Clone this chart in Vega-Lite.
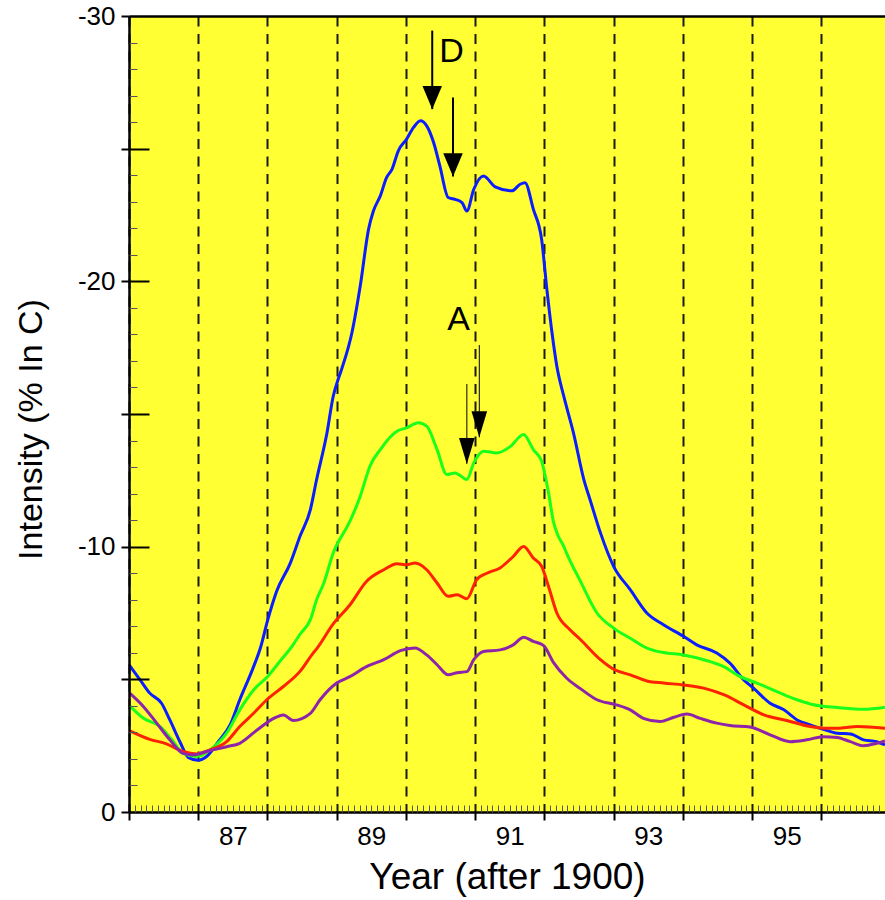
{
  "$schema": "https://vega.github.io/schema/vega-lite/v6.json",
  "width": 756,
  "height": 796,
  "autosize": {"type": "none"},
  "padding": {"left": 129, "top": 16, "right": 0, "bottom": 88},
  "background": "white",
  "config": {
    "font": "Liberation Sans",
    "view": {"fill": "#ffff33", "stroke": null}
  },
  "datasets": {
    "curves": [
      {"series": "s1", "year": 86.01, "value": -5.52},
      {"series": "s1", "year": 86.16, "value": -4.98},
      {"series": "s1", "year": 86.30, "value": -4.48},
      {"series": "s1", "year": 86.47, "value": -4.10},
      {"series": "s1", "year": 86.59, "value": -3.47},
      {"series": "s1", "year": 86.74, "value": -2.62},
      {"series": "s1", "year": 86.86, "value": -2.05},
      {"series": "s1", "year": 87.00, "value": -1.95},
      {"series": "s1", "year": 87.12, "value": -2.09},
      {"series": "s1", "year": 87.29, "value": -2.65},
      {"series": "s1", "year": 87.46, "value": -3.28},
      {"series": "s1", "year": 87.60, "value": -4.23},
      {"series": "s1", "year": 87.80, "value": -5.48},
      {"series": "s1", "year": 87.90, "value": -6.2},
      {"series": "s1", "year": 88.00, "value": -7.2},
      {"series": "s1", "year": 88.13, "value": -8.3},
      {"series": "s1", "year": 88.33, "value": -9.38},
      {"series": "s1", "year": 88.47, "value": -10.39},
      {"series": "s1", "year": 88.62, "value": -11.40},
      {"series": "s1", "year": 88.71, "value": -12.53},
      {"series": "s1", "year": 88.86, "value": -14.29},
      {"series": "s1", "year": 88.95, "value": -15.67},
      {"series": "s1", "year": 89.02, "value": -16.30},
      {"series": "s1", "year": 89.07, "value": -16.68},
      {"series": "s1", "year": 89.22, "value": -18.06},
      {"series": "s1", "year": 89.34, "value": -19.82},
      {"series": "s1", "year": 89.46, "value": -21.96},
      {"series": "s1", "year": 89.53, "value": -22.65},
      {"series": "s1", "year": 89.63, "value": -23.22},
      {"series": "s1", "year": 89.72, "value": -23.91},
      {"series": "s1", "year": 89.80, "value": -24.23},
      {"series": "s1", "year": 89.89, "value": -24.92},
      {"series": "s1", "year": 90.01, "value": -25.36},
      {"series": "s1", "year": 90.11, "value": -25.80},
      {"series": "s1", "year": 90.21, "value": -26.05},
      {"series": "s1", "year": 90.30, "value": -25.86},
      {"series": "s1", "year": 90.40, "value": -25.23},
      {"series": "s1", "year": 90.49, "value": -24.35},
      {"series": "s1", "year": 90.61, "value": -23.16},
      {"series": "s1", "year": 90.71, "value": -23.09},
      {"series": "s1", "year": 90.81, "value": -22.97},
      {"series": "s1", "year": 90.88, "value": -22.65},
      {"series": "s1", "year": 90.98, "value": -23.47},
      {"series": "s1", "year": 91.12, "value": -23.97},
      {"series": "s1", "year": 91.29, "value": -23.56},
      {"series": "s1", "year": 91.53, "value": -23.41},
      {"series": "s1", "year": 91.65, "value": -23.66},
      {"series": "s1", "year": 91.72, "value": -23.72},
      {"series": "s1", "year": 91.84, "value": -22.72},
      {"series": "s1", "year": 91.96, "value": -21.58},
      {"series": "s1", "year": 92.04, "value": -19.60},
      {"series": "s1", "year": 92.11, "value": -18.06},
      {"series": "s1", "year": 92.18, "value": -16.80},
      {"series": "s1", "year": 92.28, "value": -15.67},
      {"series": "s1", "year": 92.42, "value": -14.29},
      {"series": "s1", "year": 92.57, "value": -12.53},
      {"series": "s1", "year": 92.66, "value": -11.77},
      {"series": "s1", "year": 92.81, "value": -10.52},
      {"series": "s1", "year": 93.00, "value": -9.26},
      {"series": "s1", "year": 93.24, "value": -8.38},
      {"series": "s1", "year": 93.48, "value": -7.50},
      {"series": "s1", "year": 93.72, "value": -7.06},
      {"series": "s1", "year": 94.01, "value": -6.62},
      {"series": "s1", "year": 94.20, "value": -6.30},
      {"series": "s1", "year": 94.49, "value": -5.99},
      {"series": "s1", "year": 94.68, "value": -5.61},
      {"series": "s1", "year": 94.88, "value": -4.98},
      {"series": "s1", "year": 95.02, "value": -4.67},
      {"series": "s1", "year": 95.26, "value": -4.10},
      {"series": "s1", "year": 95.46, "value": -3.85},
      {"series": "s1", "year": 95.65, "value": -3.47},
      {"series": "s1", "year": 95.84, "value": -3.28},
      {"series": "s1", "year": 96.03, "value": -3.12},
      {"series": "s1", "year": 96.23, "value": -2.97},
      {"series": "s1", "year": 96.42, "value": -2.94},
      {"series": "s1", "year": 96.61, "value": -2.72},
      {"series": "s1", "year": 96.80, "value": -2.65},
      {"series": "s1", "year": 96.92, "value": -2.53},

      {"series": "s2", "year": 86.01, "value": -4.00},
      {"series": "s2", "year": 86.21, "value": -3.53},
      {"series": "s2", "year": 86.45, "value": -3.22},
      {"series": "s2", "year": 86.62, "value": -2.72},
      {"series": "s2", "year": 86.78, "value": -2.21},
      {"series": "s2", "year": 86.98, "value": -2.09},
      {"series": "s2", "year": 87.17, "value": -2.34},
      {"series": "s2", "year": 87.41, "value": -2.97},
      {"series": "s2", "year": 87.60, "value": -3.85},
      {"series": "s2", "year": 87.80, "value": -4.60},
      {"series": "s2", "year": 88.00, "value": -5.10},
      {"series": "s2", "year": 88.18, "value": -5.68},
      {"series": "s2", "year": 88.37, "value": -6.30},
      {"series": "s2", "year": 88.47, "value": -6.70},
      {"series": "s2", "year": 88.62, "value": -7.25},
      {"series": "s2", "year": 88.71, "value": -8.00},
      {"series": "s2", "year": 88.81, "value": -8.60},
      {"series": "s2", "year": 88.95, "value": -9.76},
      {"series": "s2", "year": 89.19, "value": -10.95},
      {"series": "s2", "year": 89.34, "value": -11.90},
      {"series": "s2", "year": 89.43, "value": -12.65},
      {"series": "s2", "year": 89.48, "value": -13.03},
      {"series": "s2", "year": 89.63, "value": -13.66},
      {"series": "s2", "year": 89.87, "value": -14.35},
      {"series": "s2", "year": 90.01, "value": -14.48},
      {"series": "s2", "year": 90.18, "value": -14.67},
      {"series": "s2", "year": 90.30, "value": -14.54},
      {"series": "s2", "year": 90.45, "value": -13.66},
      {"series": "s2", "year": 90.59, "value": -12.72},
      {"series": "s2", "year": 90.71, "value": -12.78},
      {"series": "s2", "year": 90.88, "value": -12.53},
      {"series": "s2", "year": 90.98, "value": -13.16},
      {"series": "s2", "year": 91.12, "value": -13.60},
      {"series": "s2", "year": 91.31, "value": -13.53},
      {"series": "s2", "year": 91.51, "value": -13.78},
      {"series": "s2", "year": 91.70, "value": -14.23},
      {"series": "s2", "year": 91.84, "value": -13.66},
      {"series": "s2", "year": 91.96, "value": -13.22},
      {"series": "s2", "year": 92.06, "value": -12.03},
      {"series": "s2", "year": 92.13, "value": -10.95},
      {"series": "s2", "year": 92.20, "value": -10.40},
      {"series": "s2", "year": 92.28, "value": -10.01},
      {"series": "s2", "year": 92.32, "value": -9.76},
      {"series": "s2", "year": 92.52, "value": -8.70},
      {"series": "s2", "year": 92.76, "value": -7.50},
      {"series": "s2", "year": 93.00, "value": -6.93},
      {"series": "s2", "year": 93.24, "value": -6.55},
      {"series": "s2", "year": 93.48, "value": -6.18},
      {"series": "s2", "year": 93.72, "value": -6.01},
      {"series": "s2", "year": 94.01, "value": -5.92},
      {"series": "s2", "year": 94.30, "value": -5.74},
      {"series": "s2", "year": 94.59, "value": -5.48},
      {"series": "s2", "year": 94.83, "value": -5.10},
      {"series": "s2", "year": 95.07, "value": -4.86},
      {"series": "s2", "year": 95.36, "value": -4.54},
      {"series": "s2", "year": 95.65, "value": -4.23},
      {"series": "s2", "year": 95.89, "value": -4.04},
      {"series": "s2", "year": 96.23, "value": -3.94},
      {"series": "s2", "year": 96.61, "value": -3.87},
      {"series": "s2", "year": 96.92, "value": -3.95},

      {"series": "s3", "year": 86.01, "value": -3.06},
      {"series": "s3", "year": 86.30, "value": -2.74},
      {"series": "s3", "year": 86.54, "value": -2.57},
      {"series": "s3", "year": 86.78, "value": -2.28},
      {"series": "s3", "year": 86.98, "value": -2.19},
      {"series": "s3", "year": 87.17, "value": -2.34},
      {"series": "s3", "year": 87.41, "value": -2.65},
      {"series": "s3", "year": 87.60, "value": -3.22},
      {"series": "s3", "year": 87.80, "value": -3.72},
      {"series": "s3", "year": 87.99, "value": -4.23},
      {"series": "s3", "year": 88.23, "value": -4.73},
      {"series": "s3", "year": 88.47, "value": -5.30},
      {"series": "s3", "year": 88.66, "value": -5.99},
      {"series": "s3", "year": 88.71, "value": -6.15},
      {"series": "s3", "year": 88.95, "value": -7.09},
      {"series": "s3", "year": 89.19, "value": -7.80},
      {"series": "s3", "year": 89.43, "value": -8.69},
      {"series": "s3", "year": 89.68, "value": -9.13},
      {"series": "s3", "year": 89.87, "value": -9.36},
      {"series": "s3", "year": 90.01, "value": -9.32},
      {"series": "s3", "year": 90.13, "value": -9.38},
      {"series": "s3", "year": 90.30, "value": -9.13},
      {"series": "s3", "year": 90.45, "value": -8.63},
      {"series": "s3", "year": 90.61, "value": -8.13},
      {"series": "s3", "year": 90.74, "value": -8.19},
      {"series": "s3", "year": 90.88, "value": -8.04},
      {"series": "s3", "year": 91.02, "value": -8.75},
      {"series": "s3", "year": 91.17, "value": -9.00},
      {"series": "s3", "year": 91.36, "value": -9.20},
      {"series": "s3", "year": 91.55, "value": -9.63},
      {"series": "s3", "year": 91.70, "value": -10.01},
      {"series": "s3", "year": 91.84, "value": -9.57},
      {"series": "s3", "year": 91.96, "value": -9.26},
      {"series": "s3", "year": 92.06, "value": -8.50},
      {"series": "s3", "year": 92.18, "value": -7.50},
      {"series": "s3", "year": 92.37, "value": -6.87},
      {"series": "s3", "year": 92.52, "value": -6.50},
      {"series": "s3", "year": 92.81, "value": -5.74},
      {"series": "s3", "year": 93.00, "value": -5.38},
      {"series": "s3", "year": 93.24, "value": -5.17},
      {"series": "s3", "year": 93.48, "value": -4.94},
      {"series": "s3", "year": 93.72, "value": -4.86},
      {"series": "s3", "year": 94.01, "value": -4.79},
      {"series": "s3", "year": 94.30, "value": -4.67},
      {"series": "s3", "year": 94.59, "value": -4.42},
      {"series": "s3", "year": 94.88, "value": -4.04},
      {"series": "s3", "year": 95.17, "value": -3.66},
      {"series": "s3", "year": 95.50, "value": -3.45},
      {"series": "s3", "year": 95.84, "value": -3.22},
      {"series": "s3", "year": 96.03, "value": -3.16},
      {"series": "s3", "year": 96.27, "value": -3.16},
      {"series": "s3", "year": 96.52, "value": -3.22},
      {"series": "s3", "year": 96.92, "value": -3.16},

      {"series": "s4", "year": 86.01, "value": -4.48},
      {"series": "s4", "year": 86.21, "value": -3.97},
      {"series": "s4", "year": 86.40, "value": -3.35},
      {"series": "s4", "year": 86.59, "value": -2.72},
      {"series": "s4", "year": 86.78, "value": -2.21},
      {"series": "s4", "year": 86.93, "value": -2.15},
      {"series": "s4", "year": 87.12, "value": -2.28},
      {"series": "s4", "year": 87.41, "value": -2.46},
      {"series": "s4", "year": 87.60, "value": -2.59},
      {"series": "s4", "year": 87.85, "value": -3.09},
      {"series": "s4", "year": 88.09, "value": -3.53},
      {"series": "s4", "year": 88.23, "value": -3.66},
      {"series": "s4", "year": 88.37, "value": -3.45},
      {"series": "s4", "year": 88.62, "value": -3.72},
      {"series": "s4", "year": 88.76, "value": -4.23},
      {"series": "s4", "year": 89.00, "value": -4.86},
      {"series": "s4", "year": 89.19, "value": -5.10},
      {"series": "s4", "year": 89.43, "value": -5.48},
      {"series": "s4", "year": 89.68, "value": -5.74},
      {"series": "s4", "year": 89.92, "value": -6.08},
      {"series": "s4", "year": 90.13, "value": -6.18},
      {"series": "s4", "year": 90.30, "value": -5.92},
      {"series": "s4", "year": 90.45, "value": -5.55},
      {"series": "s4", "year": 90.61, "value": -5.17},
      {"series": "s4", "year": 90.74, "value": -5.25},
      {"series": "s4", "year": 90.88, "value": -5.29},
      {"series": "s4", "year": 90.98, "value": -5.74},
      {"series": "s4", "year": 91.12, "value": -6.05},
      {"series": "s4", "year": 91.36, "value": -6.11},
      {"series": "s4", "year": 91.55, "value": -6.30},
      {"series": "s4", "year": 91.70, "value": -6.59},
      {"series": "s4", "year": 91.84, "value": -6.43},
      {"series": "s4", "year": 91.99, "value": -6.27},
      {"series": "s4", "year": 92.13, "value": -5.64},
      {"series": "s4", "year": 92.32, "value": -5.05},
      {"series": "s4", "year": 92.52, "value": -4.65},
      {"series": "s4", "year": 92.76, "value": -4.23},
      {"series": "s4", "year": 93.04, "value": -4.04},
      {"series": "s4", "year": 93.24, "value": -3.85},
      {"series": "s4", "year": 93.43, "value": -3.53},
      {"series": "s4", "year": 93.67, "value": -3.41},
      {"series": "s4", "year": 93.87, "value": -3.57},
      {"series": "s4", "year": 94.06, "value": -3.69},
      {"series": "s4", "year": 94.25, "value": -3.53},
      {"series": "s4", "year": 94.49, "value": -3.35},
      {"series": "s4", "year": 94.68, "value": -3.26},
      {"series": "s4", "year": 94.97, "value": -3.20},
      {"series": "s4", "year": 95.26, "value": -2.91},
      {"series": "s4", "year": 95.55, "value": -2.65},
      {"series": "s4", "year": 95.79, "value": -2.72},
      {"series": "s4", "year": 96.03, "value": -2.84},
      {"series": "s4", "year": 96.23, "value": -2.81},
      {"series": "s4", "year": 96.42, "value": -2.65},
      {"series": "s4", "year": 96.61, "value": -2.50},
      {"series": "s4", "year": 96.80, "value": -2.59},
      {"series": "s4", "year": 96.92, "value": -2.68}
    ],
    "arrows": [
      {"kind": "D", "x": 90.38, "ytop": -29.45, "ytip": -26.49},
      {"kind": "D", "x": 90.68, "ytop": -26.93, "ytip": -23.95},
      {"kind": "A", "x": 90.88, "ytop": -16.13, "ytip": -13.12},
      {"kind": "A", "x": 91.06, "ytop": -17.60, "ytip": -14.12}
    ],
    "notes": [
      {"label": "D", "x": 90.66, "y": -28.65},
      {"label": "A", "x": 90.76, "y": -18.55}
    ]
  },
  "layer": [
    {
      "data": {"name": "curves"},
      "mark": {"type": "line", "strokeWidth": 3, "clip": true, "interpolate": "monotone"},
      "encoding": {
        "x": {
          "field": "year", "type": "quantitative",
          "scale": {"domain": [86, 96.92], "nice": false, "zero": false},
          "axis": {
            "orient": "bottom", "zindex": 0,
            "values": [86, 87, 88, 89, 90, 91, 92, 93, 94, 95, 96],
            "labelExpr": "(datum.value % 2 === 1 && datum.value < 96) ? ('' + datum.value) : ''",
            "labelOffset": 34.6, "labelFlush": false, "labelOverlap": false,
            "labelFontSize": 26, "labelColor": "black", "labelPadding": 3,
            "tickSize": 8, "tickWidth": 2, "tickColor": "black",
            "domainColor": "black", "domainWidth": 2.5,
            "grid": true, "gridDash": [10, 7.5], "gridColor": "#1a1a1a", "gridWidth": 2, "gridOpacity": 1,
            "title": "Year (after 1900)", "titleFontSize": 37, "titleFontWeight": "normal",
            "titleColor": "black", "titlePadding": 10
          }
        },
        "y": {
          "field": "value", "type": "quantitative",
          "scale": {"domain": [0, -30], "nice": false, "zero": false},
          "axis": {
            "orient": "left", "zindex": 1,
            "values": [0, -5, -10, -15, -20, -25, -30],
            "labelExpr": "(datum.value % 10 === 0) ? ('' + datum.value) : ''",
            "labelOverlap": false, "labelFlush": false,
            "labelFontSize": 26, "labelColor": "black", "labelPadding": 6,
            "tickSize": 8, "tickWidth": 2, "tickColor": "black",
            "domainColor": "black", "domainWidth": 2.5,
            "grid": false,
            "title": "Intensity (% In C)", "titleFontSize": 34, "titleFontWeight": "normal",
            "titleColor": "black", "titlePadding": 29, "titleY": 413
          }
        },
        "color": {
          "field": "series", "type": "nominal",
          "scale": {"domain": ["s1", "s2", "s3", "s4"], "range": ["#0a1eff", "#1aff1a", "#ff2200", "#8e24aa"]},
          "legend": null
        }
      }
    },
    {
      "data": {"name": "arrows"},
      "mark": {"type": "rule", "color": "black"},
      "encoding": {
        "x": {
          "field": "x", "type": "quantitative",
          "scale": {"domain": [86, 96.92], "nice": false, "zero": false},
          "axis": {
            "orient": "bottom", "zindex": 1,
            "values": [86.083, 86.167, 86.25, 86.333, 86.417, 86.5, 86.583, 86.667, 86.75, 86.833, 86.917,
                       87.083, 87.167, 87.25, 87.333, 87.417, 87.5, 87.583, 87.667, 87.75, 87.833, 87.917,
                       88.083, 88.167, 88.25, 88.333, 88.417, 88.5, 88.583, 88.667, 88.75, 88.833, 88.917,
                       89.083, 89.167, 89.25, 89.333, 89.417, 89.5, 89.583, 89.667, 89.75, 89.833, 89.917,
                       90.083, 90.167, 90.25, 90.333, 90.417, 90.5, 90.583, 90.667, 90.75, 90.833, 90.917,
                       91.083, 91.167, 91.25, 91.333, 91.417, 91.5, 91.583, 91.667, 91.75, 91.833, 91.917,
                       92.083, 92.167, 92.25, 92.333, 92.417, 92.5, 92.583, 92.667, 92.75, 92.833, 92.917,
                       93.083, 93.167, 93.25, 93.333, 93.417, 93.5, 93.583, 93.667, 93.75, 93.833, 93.917,
                       94.083, 94.167, 94.25, 94.333, 94.417, 94.5, 94.583, 94.667, 94.75, 94.833, 94.917,
                       95.083, 95.167, 95.25, 95.333, 95.417, 95.5, 95.583, 95.667, 95.75, 95.833, 95.917,
                       96.083, 96.167, 96.25, 96.333, 96.417, 96.5, 96.583, 96.667, 96.75, 96.833, 96.917],
            "labels": false, "domain": false, "grid": false,
            "tickSize": -7, "tickColor": "#555555", "tickWidth": 1,
            "title": null
          }
        },
        "y": {
          "field": "ytop", "type": "quantitative",
          "scale": {"domain": [0, -30], "nice": false, "zero": false},
          "axis": {
            "orient": "left", "zindex": 1,
            "values": [-5, -10, -15, -20, -25],
            "labels": false, "domain": false, "grid": false,
            "tickSize": -20, "tickColor": "black", "tickWidth": 2,
            "title": null
          }
        },
        "y2": {"field": "ytip"},
        "strokeWidth": {
          "field": "kind", "type": "nominal",
          "scale": {"domain": ["D", "A"], "range": [2, 1]},
          "legend": null
        }
      }
    },
    {
      "data": {"name": "arrows"},
      "mark": {"type": "point", "filled": true, "color": "black", "opacity": 1, "strokeWidth": 0},
      "encoding": {
        "x": {
          "field": "x", "type": "quantitative",
          "scale": {"domain": [86, 96.92], "nice": false, "zero": false},
          "axis": {
            "orient": "top", "zindex": 1,
            "domain": true, "domainColor": "black", "domainWidth": 2.5,
            "ticks": false, "labels": false, "grid": false,
            "title": null
          }
        },
        "y": {
          "field": "ytip", "type": "quantitative",
          "scale": {"domain": [0, -30], "nice": false, "zero": false},
          "axis": {
            "orient": "left", "zindex": 1,
            "values": [-1, -2, -3, -4, -6, -7, -8, -9, -11, -12, -13, -14, -16, -17, -18, -19, -21, -22, -23, -24, -26, -27, -28, -29],
            "labels": false, "domain": false, "grid": false,
            "tickSize": -8, "tickColor": "#555555", "tickWidth": 1,
            "title": null
          }
        },
        "shape": {
          "field": "kind", "type": "nominal",
          "scale": {"domain": ["D", "A"], "range": ["M-0.65,-1.55L0.65,-1.55L0,0Z", "M-0.6,-2L0.6,-2L0,0Z"]},
          "legend": null
        },
        "size": {
          "field": "kind", "type": "nominal",
          "scale": {"domain": ["D", "A"], "range": [900, 676]},
          "legend": null
        }
      }
    },
    {
      "data": {"name": "notes"},
      "mark": {"type": "text", "fontSize": 34, "align": "center", "baseline": "middle", "color": "black"},
      "encoding": {
        "x": {
          "field": "x", "type": "quantitative",
          "scale": {"domain": [86, 96.92], "nice": false, "zero": false},
          "axis": null
        },
        "y": {
          "field": "y", "type": "quantitative",
          "scale": {"domain": [0, -30], "nice": false, "zero": false},
          "axis": null
        },
        "text": {"field": "label"}
      }
    }
  ],
  "resolve": {"axis": {"x": "independent", "y": "independent"}}
}
